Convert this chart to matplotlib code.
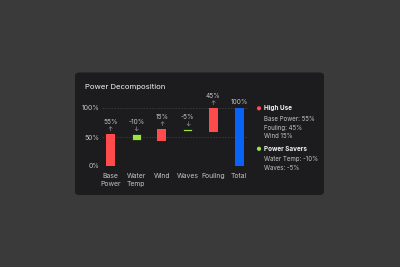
import matplotlib
matplotlib.use('Agg')
import matplotlib.pyplot as plt
from matplotlib.patches import FancyBboxPatch, Ellipse

# ── data ──
categories = ['Base\nPower', 'Water\nTemp', 'Wind', 'Waves', 'Fouling', 'Total']
bar_start = [0, 55, 43, 64, 59, 0]
bar_end = [55, 45, 64, 60, 100, 100]
value_labels = ['55%', '-10%', '15%', '-5%', '45%', '100%']
kinds = ['up', 'down', 'up', 'down', 'up', 'total']
y_ticks = [0, 50, 100]
y_tick_labels = ['0%', '50%', '100%']

legend_groups = [
    ('High Use', 'up', ['Base Power: 55%', 'Fouling: 45%', 'Wind 15%']),
    ('Power Savers', 'down', ['Water Temp: -10%', 'Waves: -5%']),
]

# ── palette ──
BG = '#3a3a3a'
CARD = '#1c1c1f'
RED = '#ff4b4b'
GREEN = '#9be63c'
BLUE = '#0b62f7'
TEXT = '#f2f2f2'
SUBTEXT = '#c4c4c4'
ARROW = '#a8a8a8'
GRID = '#3c3c40'
COLORS = {'up': RED, 'down': GREEN, 'total': BLUE}

plt.rcParams['font.family'] = ['Inter', 'DejaVu Sans']

W, H = 400, 267
fig = plt.figure(figsize=(W / 100, H / 100), dpi=100, facecolor=BG)


def fx(px):
    return px / W


def fy(py):
    return 1 - py / H


# card
card = FancyBboxPatch((fx(75), fy(195)), fx(324 - 75), (195 - 72.5) / H,
                      boxstyle='round,pad=0,rounding_size=0.012',
                      transform=fig.transFigure, facecolor=CARD,
                      edgecolor='none', zorder=-5)
fig.patches.append(card)

fig.text(fx(85), fy(86.5), 'Power Decomposition', color=TEXT,
         fontsize=5.6, va='center', ha='left')

# axes: 0% at y=166px, 100% at y=108px
ax = fig.add_axes([fx(102), fy(166), fx(248 - 102), (166 - 108) / H])
ax.set_facecolor('none')
for s in ax.spines.values():
    s.set_visible(False)
ax.set_xlim(-0.33, 5.35)
ax.set_ylim(0, 100)

x = list(range(len(categories)))
for i in x:
    lo, hi = min(bar_start[i], bar_end[i]), max(bar_start[i], bar_end[i])
    k = kinds[i]
    ec = '#101012' if k == 'down' else 'none'
    ax.bar(i, hi - lo, bottom=lo, width=0.35, color=COLORS[k],
           edgecolor=ec, linewidth=0.5, zorder=3)
    if k == 'total':
        ax.annotate(value_labels[i], (i, hi), xytext=(0, 4.3),
                    textcoords='offset points', ha='center', va='center',
                    fontsize=4.7, color=SUBTEXT, annotation_clip=False)
    else:
        arrow = '↑' if k == 'up' else '↓'
        ax.annotate(arrow, (i, hi), xytext=(0, 3.4),
                    textcoords='offset points', ha='center', va='center',
                    fontsize=4.5, color=ARROW, annotation_clip=False)
        ax.annotate(value_labels[i], (i, hi), xytext=(0, 8.5),
                    textcoords='offset points', ha='center', va='center',
                    fontsize=4.7, color=SUBTEXT, annotation_clip=False)

for t in y_ticks:
    ax.axhline(t, color=GRID, linewidth=0.6, linestyle=(0, (2, 1.5)), zorder=1)

ax.set_yticks(y_ticks)
ax.set_yticklabels(y_tick_labels)
ax.set_xticks(x)
ax.set_xticklabels(categories, linespacing=1.5)
ax.tick_params(axis='both', length=0, colors=SUBTEXT, labelsize=4.9)
ax.tick_params(axis='x', pad=5)
ax.tick_params(axis='y', pad=1.5)

# legend
y = 108.3
for title, kind, items in legend_groups:
    fig.patches.append(Ellipse((fx(259), fy(y)), fx(4.2), 4.2 / H,
                               transform=fig.transFigure,
                               facecolor=COLORS[kind], edgecolor='none'))
    fig.text(fx(264), fy(y), title, color=TEXT, fontsize=4.6,
             fontweight='bold', va='center', ha='left')
    y += 10.7
    for item in items:
        fig.text(fx(264), fy(y), item, color=SUBTEXT, fontsize=4.4,
                 va='center', ha='left')
        y += 8.6
    y += 4

fig.savefig('out.png', dpi=100, facecolor=BG)
